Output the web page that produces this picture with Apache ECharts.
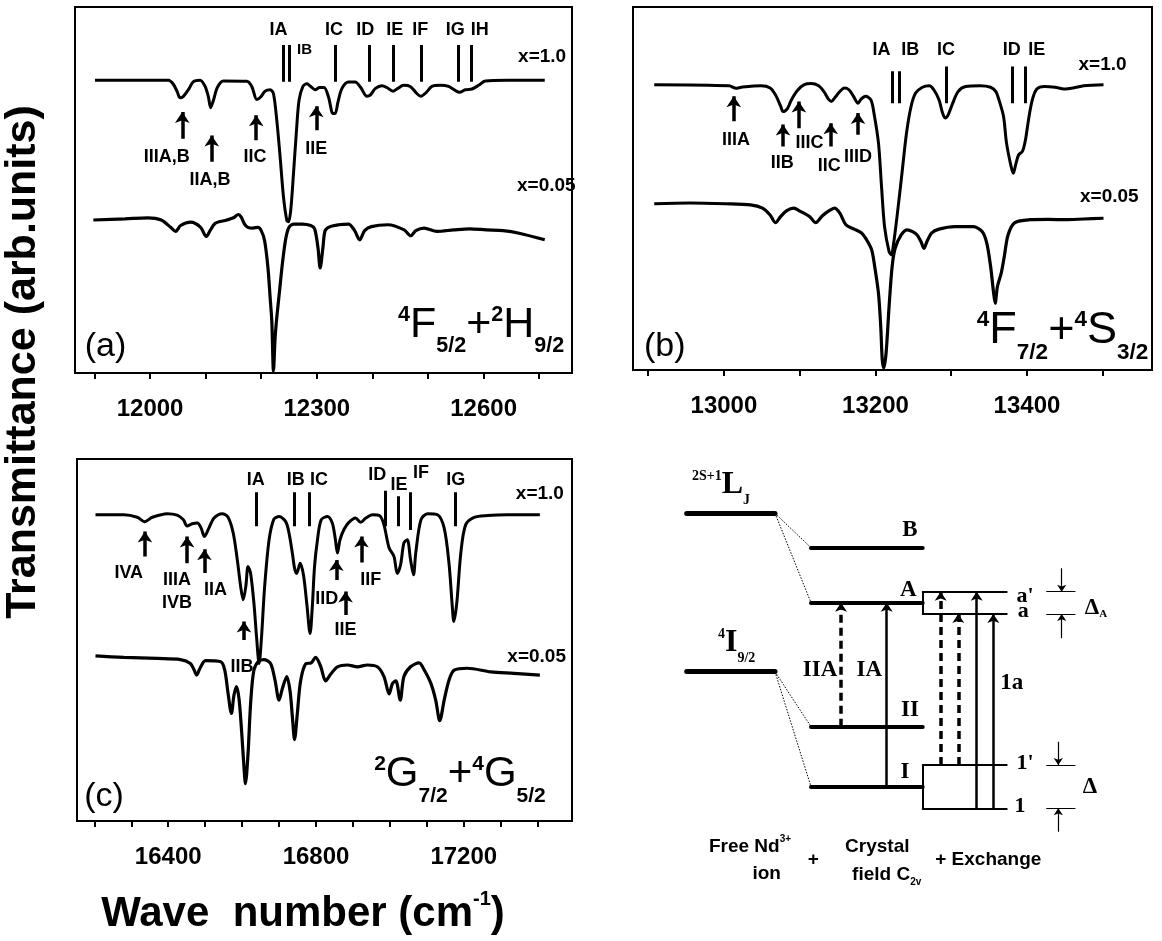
<!DOCTYPE html>
<html><head><meta charset="utf-8">
<script src="https://cdn.jsdelivr.net/npm/echarts@6/dist/echarts.min.js"></script>
<style>html,body{margin:0;padding:0;background:#fff}#c{width:1162px;height:941px}</style>
</head><body><div id="c"></div>
<script>
const FONT = '"Liberation Sans", Arial, Helvetica, sans-serif';
const SERIF = '"Liberation Serif", "Times New Roman", serif';

// ---------- Panel (a): 4F5/2 + 2H9/2 ----------
const aTicks = [11900,12000,12100,12200,12300,12400,12500,12600,12700];
const aTickLabels = [12000,12300,12600];
const aX10 = [[11901,80.0],[12033,80.0],[12042,78.9],[12049,76.8],[12054,75.2],[12060,75.6],[12069,77.4],[12078,79.6],[12090,80.0],[12099,78.3],[12105,75.4],[12109,72.5],[12114,74.5],[12121,78.0],[12132,79.8],[12174,79.7],[12183,78.3],[12192,74.7],[12199,75.4],[12207,77.0],[12216,77.4],[12222,76.3],[12228,69.0],[12234,59.0],[12240,48.1],[12246,41.7],[12249,41.3],[12253,44.4],[12258,54.5],[12263,65.4],[12268,74.5],[12275,78.3],[12282,79.0],[12289,78.3],[12297,77.4],[12305,78.0],[12313,78.0],[12321,75.4],[12329,70.9],[12333,70.9],[12338,74.0],[12345,77.7],[12357,79.5],[12369,79.5],[12379,78.0],[12390,75.6],[12396,75.9],[12405,77.7],[12417,78.5],[12426,78.0],[12437,77.0],[12445,77.7],[12456,78.6],[12468,78.3],[12479,76.5],[12487,75.6],[12497,76.7],[12507,78.3],[12522,78.6],[12537,78.3],[12549,77.2],[12557,76.7],[12567,77.4],[12579,77.6],[12591,78.6],[12603,79.8],[12642,80.0],[12710,80.0]];
const aX005 = [[11898,41.8],[11955,42.1],[11996,42.4],[12020,41.8],[12037,39.8],[12046,38.7],[12055,40.3],[12073,41.2],[12091,39.8],[12101,37.3],[12108,38.9],[12117,40.9],[12138,41.8],[12150,42.4],[12159,43.3],[12164,42.6],[12170,40.7],[12176,39.8],[12185,39.6],[12194,39.8],[12200,38.9],[12206,36.2],[12212,28.9],[12216,20.6],[12219,14.2],[12222,0.6],[12225,9.7],[12228,15.2],[12233,22.5],[12238,29.8],[12244,36.6],[12250,39.8],[12259,40.7],[12274,40.7],[12289,40.3],[12296,39.4],[12302,34.3],[12306,28.7],[12311,34.3],[12315,38.9],[12324,40.0],[12339,40.5],[12357,40.7],[12368,38.9],[12377,36.4],[12386,38.9],[12398,40.0],[12428,40.5],[12457,39.1],[12469,37.5],[12478,38.9],[12493,39.6],[12516,38.7],[12546,39.1],[12575,39.4],[12605,39.1],[12635,38.9],[12664,38.2],[12710,36.4]];
const aBars = [[12240,79.6,89.6],[12250,79.6,89.6],[12333,79.6,89.6],[12394,79.6,89.6],[12437,79.6,89.6],[12487,79.6,89.6],[12555,79.6,89.6],[12578,79.6,89.6]];
const aBarLabels = [['IA',12231,93.6],['IC',12331,93.6],['ID',12387,93.6],['IE',12440,93.6],['IF',12486,93.6],['IG',12549,93.6],['IH',12593,93.6]];
const aSmallLabels = [['IB',12278,88.2]];
const aArrows = [[12058,64.0,71.3],[12111,57.7,64.9],[12191,63.6,70.4],[12299,66.3,72.9]];
const aArrowLabels = [['IIIA,B',12030,59.0],['IIA,B',12108,52.6],['IIC',12189,59.0],['IIE',12299,61.3]];
const aSeriesLabels = [['x=1.0',12662,86.5],['x=0.05',12660,51.2]];
const aPanel = [['(a)',11920,7.1]];
const aTerm = [['{sup|4}{m|F}{sub|5/2}{m|+}{sup|2}{m|H}{sub|9/2}{sp|\u200b}',12745,11.6]];

// ---------- Panel (b): 4F7/2 + 4S3/2 ----------
const bTicks = [12900,13000,13100,13200,13300,13400,13500];
const bTickLabels = [13000,13200,13400];
const bX10 = [[12908,78.6],[13007,78.3],[13016,77.6],[13023,77.9],[13049,78.3],[13061,77.7],[13068,75.8],[13075,72.6],[13078,71.2],[13084,72.1],[13089,74.4],[13097,77.0],[13106,78.6],[13115,78.9],[13125,78.3],[13132,76.7],[13138,74.6],[13142,74.0],[13146,74.9],[13153,76.7],[13159,77.7],[13165,77.2],[13171,75.4],[13177,73.5],[13181,74.6],[13187,75.4],[13194,74.4],[13198,70.8],[13204,62.5],[13208,50.6],[13212,39.5],[13218,32.6],[13221,31.7],[13224,34.9],[13229,43.2],[13235,54.2],[13241,65.3],[13247,72.6],[13253,76.3],[13262,77.9],[13271,78.3],[13277,77.2],[13284,74.4],[13288,71.2],[13292,69.4],[13296,70.3],[13302,73.5],[13309,76.7],[13319,78.1],[13338,78.3],[13352,77.9],[13359,76.7],[13363,74.4],[13369,69.9],[13373,62.5],[13379,56.1],[13382,54.2],[13385,56.5],[13389,59.3],[13394,60.2],[13398,63.4],[13402,68.9],[13407,74.4],[13413,77.4],[13423,78.1],[13437,77.9],[13449,77.4],[13461,77.7],[13475,78.3],[13501,78.6]];
const bX005 = [[12908,45.8],[12955,46.0],[13002,45.8],[13035,45.5],[13051,44.6],[13061,42.7],[13068,40.6],[13075,42.3],[13083,43.9],[13092,44.6],[13101,43.7],[13113,42.3],[13121,40.6],[13130,42.5],[13139,43.9],[13146,44.6],[13153,43.2],[13161,40.0],[13172,38.8],[13182,37.7],[13188,36.0],[13195,33.1],[13199,28.5],[13204,21.1],[13207,11.9],[13209,2.8],[13211,0.6],[13214,4.6],[13218,17.5],[13222,28.5],[13226,33.5],[13234,37.2],[13242,38.6],[13249,38.1],[13255,37.2],[13260,35.4],[13264,33.5],[13268,35.4],[13274,37.7],[13284,38.8],[13305,39.5],[13329,39.5],[13341,38.1],[13347,34.9],[13352,28.5],[13356,21.1],[13358,18.4],[13361,23.0],[13366,26.7],[13370,31.2],[13375,37.2],[13384,40.6],[13404,41.4],[13428,41.5],[13451,41.4],[13475,41.6],[13501,41.8]];
const bBars = [[13222,73.5,82.3],[13232,73.5,82.3],[13293,73.5,83.6],[13380,73.5,83.6],[13398,73.5,83.6]];
const bBarLabels = [['IA',13208,88.2],['IB',13246,88.2],['IC',13293,88.2],['ID',13380,88.2],['IE',13413,88.2]];
const bArrows = [[13013,68.5,75.4],[13078,61.6,67.6],[13099,66.6,74.0],[13141,61.6,68.0],[13177,64.8,70.8]];
const bArrowLabels = [['IIIA',13016,63.4],['IIB',13077,57.0],['IIIC',13113,62.5],['IIC',13139,56.1],['IIID',13177,58.8]];
const bSeriesLabels = [['x=1.0',13468,84.1],['x=0.05',13470,47.8]];
const bPanel = [['(b)',12922,6.4]];
const bTerm = [['{sup|4}{m|F}{sub|7/2}{m|+}{sup|4}{m|S}{sub|3/2}{sp|\u200b}',13560,9.2]];

// ---------- Panel (c): 2G7/2 + 4G5/2 ----------
const cTicks = [16200,16300,16400,16500,16600,16700,16800,16900,17000,17100,17200,17300,17400];
const cTickLabels = [16400,16800,17200];
const cX10 = [[16203,84.6],[16280,84.6],[16316,83.9],[16336,82.7],[16357,83.9],[16397,84.9],[16424,84.5],[16441,83.2],[16451,81.5],[16465,82.1],[16479,82.3],[16489,80.9],[16498,78.6],[16510,80.9],[16524,83.7],[16546,84.9],[16562,83.9],[16576,79.5],[16587,72.1],[16596,64.8],[16603,61.1],[16610,64.8],[16616,70.3],[16623,68.4],[16632,60.1],[16639,50.9],[16646,43.5],[16652,50.0],[16661,64.8],[16673,77.7],[16686,83.4],[16700,84.1],[16718,82.7],[16727,79.5],[16736,74.0],[16742,69.8],[16748,68.4],[16757,71.2],[16766,68.0],[16775,60.1],[16784,51.8],[16790,59.2],[16796,70.3],[16804,77.7],[16814,83.2],[16831,84.1],[16844,82.3],[16852,78.1],[16858,74.0],[16865,77.7],[16876,80.6],[16889,82.5],[16907,83.7],[16921,82.5],[16935,83.7],[16953,84.6],[16973,84.3],[16984,81.8],[16998,75.4],[17011,73.1],[17020,68.4],[17029,70.8],[17038,76.8],[17047,77.7],[17056,72.1],[17064,68.0],[17070,74.0],[17084,83.2],[17102,84.9],[17129,84.6],[17147,80.9],[17160,71.2],[17169,59.2],[17173,55.1],[17181,60.1],[17192,74.0],[17205,81.8],[17228,83.9],[17264,84.4],[17318,84.6],[17406,84.6]];
const cX005 = [[16203,45.6],[16280,45.2],[16370,44.9],[16433,44.6],[16460,43.5],[16471,41.5],[16477,40.3],[16486,42.2],[16501,44.3],[16542,44.0],[16553,41.7],[16562,35.2],[16571,29.7],[16578,34.8],[16585,37.1],[16592,33.4],[16599,24.2],[16605,14.9],[16609,10.3],[16616,18.6],[16623,32.5],[16632,41.7],[16646,44.3],[16659,44.6],[16677,43.5],[16689,38.9],[16700,33.4],[16709,36.6],[16721,39.9],[16730,35.7],[16736,28.8],[16742,22.5],[16749,29.2],[16758,38.5],[16772,43.4],[16787,43.7],[16799,45.2],[16813,42.6],[16826,38.7],[16840,40.6],[16858,42.6],[16885,43.1],[16912,42.6],[16939,43.1],[16966,42.6],[16984,39.9],[16998,35.1],[17007,38.0],[17016,38.7],[17028,33.4],[17038,39.9],[17056,42.6],[17079,43.7],[17093,41.7],[17111,38.0],[17124,33.4],[17135,27.7],[17147,33.4],[17160,38.9],[17174,41.7],[17210,42.2],[17273,41.2],[17336,40.8],[17406,40.3]];
const cBars = [[16637,81.4,90.8],[16740,81.4,90.8],[16783,81.4,90.8],[16987,81.4,91.2],[17022,81.4,89.7],[17056,80.4,90.8],[17177,81.4,90.8]];
const cBarLabels = [['IA',16637,94.3],['IB',16745,94.3],['IC',16808,94.3],['ID',16966,95.7],['IE',17025,92.9],['IF',17084,96.1],['IG',17178,94.3]];
const cArrows = [[16337,73.1,80.0],[16451,71.2,78.6],[16498,68.5,75.1],[16605,50.0,55.1],[16855,66.6,72.1],[16880,56.9,63.4],[16923,71.4,78.6]];
const cArrowLabels = [['IVA',16293,68.5],['IIIA',16424,66.6],['IVB',16424,60.1],['IIA',16528,63.7],['IIB',16600,42.6],['IID',16829,61.3],['IIE',16880,52.8],['IIF',16948,66.6]];
const cSeriesLabels = [['x=1.0',17341,90.3],['x=0.05',17318,45.5]];
const cPanel = [['(c)',16226,6.6]];
const cTerm = [['{sup|2}{m|G}{sub|7/2}{m|+}{sup|4}{m|G}{sub|5/2}{sp|\u200b}',17422,11.3]];

// ---------- Energy level scheme (arbitrary units) ----------
const dgFreeIon = [[4.67,13.5,42.77],[4.67,13.5,26.93]];
const dgCrystal = [[17.1,28.27,39.33],[17.1,28.27,33.83],[17.1,28.27,21.43],[17.1,28.27,15.43]];
const dgExchange = [[28.27,36.67,34.93],[28.27,36.67,32.7],[28.27,36.67,17.6],[28.27,36.67,13.27]];
const dgBoxSides = [[28.27,32.7,34.93],[28.27,13.27,17.6]];
const dgDotted = [[13.5,42.77,17.1,39.33],[13.5,42.77,17.1,33.83],[13.5,26.93,17.1,21.43],[13.5,26.93,17.1,15.43]];
const dgDashedUp = [[20.1,21.43,33.83],[30.07,17.6,34.93],[31.83,17.6,32.7]];
const dgSolidUp = [[24.67,15.43,33.83],[33.67,13.27,34.93],[35.33,13.27,32.7]];
const dgSplitTicks = [[40.67,43.5,34.93],[40.67,43.5,32.7],[40.67,43.5,17.6],[40.67,43.5,13.27]];
const dgSplitArrows = [[42.17,37.27,34.93],[42.17,30.27,32.7],[41.83,19.93,17.6],[41.83,10.93,13.27]];
const dgSerifLabels = [['B',27,41.1],['A',26.83,35.1],['II',27,23.1],['I',26.5,16.93],['IIA',18,27.1],['IA',22.93,27.1],['1a',37.17,25.77]];
const dgSmallSerif = [["a'",38.5,34.43],['a',38.33,32.93],["1'",38.5,17.77],['1',38,13.43]];
const dgDelta = [['{d|\u0394}{s|A}',45.6,33.3],['{d|\u0394}',45,15.43]];
const dgTerms = [['{sup|2S+1}{L|L}{sub|J}{sp|\u200b}',5.2,45.3],['{sup|4}{L|I}{sub|9/2}{sp|\u200b}',7.8,29.5]];
const dgBottom = [['Free Nd{s|3+}',11,9.43],['ion',12.67,6.77],['+',17.33,8.1],['Crystal',23.73,9.43],['field C{b|2v}',24.67,6.6],['+ Exchange',34.83,8.1]];

// ---------- Build ----------
const BLACK = '#000';
function curve(data, g, w) {
  return {type:'line', xAxisIndex:g, yAxisIndex:g, data:data, showSymbol:false, symbol:'none',
    smooth:0.3, lineStyle:{color:BLACK, width:w}, silent:true, z:3, clip:false};
}
function segs(list, g, w, type, arrowSize) {
  return {type:'lines', coordinateSystem:'cartesian2d', xAxisIndex:g, yAxisIndex:g,
    data:list.map(b=>({coords:[[b[0],b[1]],[b[0],b[2]]]})),
    lineStyle:{color:BLACK, width:w, type:type||'solid', opacity:1},
    symbol: arrowSize ? ['none','arrow'] : 'none', symbolSize: arrowSize || 0,
    silent:true, z:4, animation:false};
}
function hsegs(list, g, w, type) {
  return {type:'lines', coordinateSystem:'cartesian2d', xAxisIndex:g, yAxisIndex:g,
    data:list.map(b=>({coords:[[b[0],b[2]],[b[1],b[2]]]})),
    lineStyle:{color:BLACK, width:w, type:type||'solid', opacity:1, cap:'round'},
    symbol:'none', silent:true, z:4, animation:false};
}
function texts(list, g, lab) {
  return {type:'scatter', xAxisIndex:g, yAxisIndex:g, symbolSize:1, itemStyle:{color:'rgba(0,0,0,0)'},
    data:list.map(t=>({value:[t[1],t[2]], name:t[0]})), silent:true, z:6,
    label:Object.assign({show:true, position:'inside', formatter:'{b}', color:BLACK, opacity:1,
      textBorderWidth:0, fontFamily:FONT}, lab)};
}
function termRich(size) {
  const h = size*0.5;
  return {
    m:{fontSize:size, fontFamily:FONT, color:BLACK, lineHeight:size, verticalAlign:'top'},
    sup:{fontSize:h, fontFamily:FONT, fontWeight:'bold', color:BLACK, lineHeight:h, verticalAlign:'top'},
    sub:{fontSize:h, fontFamily:FONT, fontWeight:'bold', color:BLACK, lineHeight:h, verticalAlign:'bottom'},
    sp:{fontSize:1, lineHeight:size*1.25}
  };
}
const peakLab = {fontSize:18, fontWeight:'bold'};
const seriesLab = {fontSize:19, fontWeight:'bold', align:'left'};
const panelLab = {fontSize:34, fontWeight:'normal'};

function panel(g, X10, X005, bars, barLabels, small, arrows, arrowLabels, serLabels, pLab, term, termSize) {
  return [
    curve(X10, g, 3), curve(X005, g, 3.2),
    segs(bars, g, 3), segs(arrows, g, 3.5, 'solid', 11),
    texts(barLabels, g, peakLab), texts(small, g, {fontSize:15, fontWeight:'bold'}),
    texts(arrowLabels, g, peakLab), texts(serLabels, g, seriesLab),
    texts(pLab, g, panelLab),
    texts(term, g, {formatter:p=>p.name, align:'right', rich:termRich(termSize)})
  ];
}

const tickStyle = {show:true, inside:false, length:6, lineStyle:{color:BLACK, width:2}};
const labStyle = {show:true, fontSize:24, fontWeight:'bold', fontFamily:FONT, color:BLACK, margin:24,
  formatter:v=>String(v)};
function xax(g, min, max, ticks, labels) {
  return {type:'value', gridIndex:g, min:min, max:max, axisLine:{show:false}, splitLine:{show:false},
    axisTick:Object.assign({customValues:ticks}, tickStyle),
    axisLabel:Object.assign({customValues:labels}, labStyle)};
}
function yax(g, min, max) {
  return {type:'value', gridIndex:g, min:min, max:max, show:false, splitLine:{show:false}};
}

const series = [].concat(
  panel(0, aX10, aX005, aBars, aBarLabels, aSmallLabels, aArrows, aArrowLabels, aSeriesLabels, aPanel, aTerm, 43),
  panel(1, bX10, bX005, bBars, bBarLabels, [], bArrows, bArrowLabels, bSeriesLabels, bPanel, bTerm, 45),
  panel(2, cX10, cX005, cBars, cBarLabels, [], cArrows, cArrowLabels, cSeriesLabels, cPanel, cTerm, 42),
  [
    hsegs(dgFreeIon, 3, 5), hsegs(dgCrystal, 3, 4), hsegs(dgExchange, 3, 2),
    segs(dgBoxSides, 3, 2),
    {type:'lines', coordinateSystem:'cartesian2d', xAxisIndex:3, yAxisIndex:3,
      data:dgDotted.map(d=>({coords:[[d[0],d[1]],[d[2],d[3]]]})),
      lineStyle:{color:BLACK, width:1, type:[1.5,1.5], opacity:1}, symbol:'none', silent:true, z:4},
    segs(dgDashedUp, 3, 3.5, [8,5], 9), segs(dgSolidUp, 3, 2.5, 'solid', 9),
    hsegs(dgSplitTicks, 3, 1.2),
    segs(dgSplitArrows, 3, 1.2, 'solid', 7),
    texts(dgSerifLabels, 3, {fontFamily:SERIF, fontWeight:'bold', fontSize:23}),
    texts(dgSmallSerif, 3, {fontFamily:SERIF, fontWeight:'bold', fontSize:22}),
    texts(dgDelta, 3, {formatter:p=>p.name, rich:{
      d:{fontFamily:SERIF, fontWeight:'bold', fontSize:23, color:BLACK, lineHeight:23, verticalAlign:'top'},
      s:{fontFamily:SERIF, fontWeight:'bold', fontSize:11, color:BLACK, lineHeight:11, verticalAlign:'bottom'}}}),
    texts(dgTerms, 3, {formatter:p=>p.name, align:'left', rich:{
      L:{fontFamily:SERIF, fontWeight:'bold', fontSize:32, color:BLACK, lineHeight:30, verticalAlign:'top'},
      sup:{fontFamily:SERIF, fontWeight:'bold', fontSize:14, color:BLACK, lineHeight:14, verticalAlign:'top'},
      sub:{fontFamily:SERIF, fontWeight:'bold', fontSize:14, color:BLACK, lineHeight:14, verticalAlign:'bottom'},
      sp:{fontSize:1, lineHeight:38}}}),
    texts(dgBottom, 3, {formatter:p=>p.name, fontSize:19, fontWeight:'bold', rich:{
      s:{fontSize:10, fontWeight:'bold', fontFamily:FONT, color:BLACK, verticalAlign:'top', lineHeight:24},
      b:{fontSize:10, fontWeight:'bold', fontFamily:FONT, color:BLACK, verticalAlign:'bottom', lineHeight:24}}})
  ]
);

const gridBase = {show:true, borderColor:BLACK, borderWidth:2, backgroundColor:'transparent', containLabel:false};
const option = {
  animation:false,
  backgroundColor:'#fff',
  grid:[
    Object.assign({left:75, top:7, width:497, height:366}, gridBase),
    Object.assign({left:633, top:7, width:519, height:363}, gridBase),
    Object.assign({left:77, top:459, width:495, height:362}, gridBase),
    {left:640, top:450, width:522, height:491, show:false}
  ],
  xAxis:[
    xax(0, 11865, 12759, aTicks, aTickLabels),
    xax(1, 12880, 13565, bTicks, bTickLabels),
    xax(2, 16153, 17493, cTicks, cTickLabels),
    {type:'value', gridIndex:3, min:0, max:52.2, show:false, splitLine:{show:false}}
  ],
  yAxis:[yax(0,0,100), yax(1,0,100), yax(2,0,100), yax(3,0,49.1)],
  series:series,
  graphic:[
    {type:'text', x:23, y:362, rotation:Math.PI/2, silent:true,
      style:{text:'Transmittance (arb.units)', fontSize:43, fontWeight:'bold', fontFamily:FONT, fill:BLACK, align:'center', verticalAlign:'middle'}},
    {type:'text', x:303, y:912, silent:true,
      style:{text:'{m|Wave  number (cm}{s|-1}{m|)}', align:'center', verticalAlign:'middle',
        rich:{m:{fontSize:42, fontWeight:'bold', fontFamily:FONT, fill:BLACK, lineHeight:46, verticalAlign:'bottom'},
              s:{fontSize:20, fontWeight:'bold', fontFamily:FONT, fill:BLACK, lineHeight:46, verticalAlign:'top'}}}}
  ]
};
const chart = echarts.init(document.getElementById('c'), null, {renderer:'canvas'});
chart.setOption(option);
</script></body></html>
